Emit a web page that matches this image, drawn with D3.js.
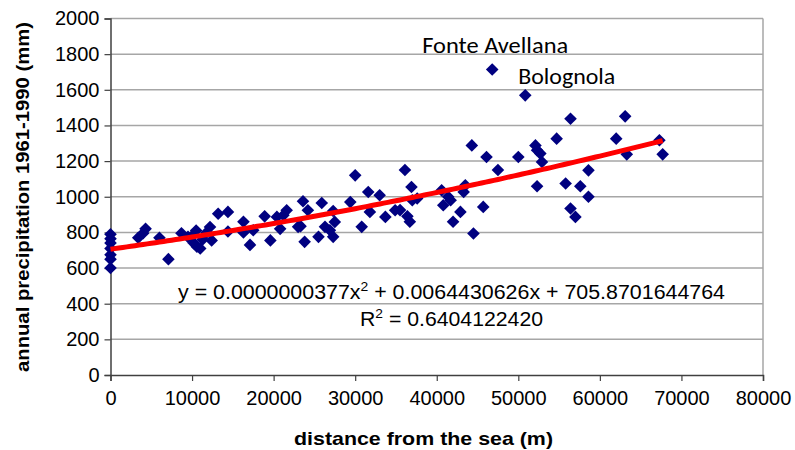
<!DOCTYPE html>
<html><head><meta charset="utf-8">
<script src="https://cdn.jsdelivr.net/npm/d3@7"></script>
<style>body{margin:0;background:#fff}svg{display:block}</style>
</head><body>
<svg id="c" width="795" height="450"></svg>
<script>
const distance = [0,0,0,0,0,0,0,3400,4000,4300,6000,7100,8700,9500,10000,10200,10500,10600,11000,11300,11800,12200,12400,13200,14400,14400,16300,16300,17100,17500,18900,19600,20400,20800,21200,21600,23000,23300,23600,23800,24200,25500,25900,26300,26900,27300,27500,27300,29400,30000,30800,31600,31800,33000,33700,34900,35500,36100,36400,36700,36900,37000,37600,40600,40800,41400,41700,42000,42900,43300,43500,44300,44500,45700,46100,46800,47500,50000,50850,52100,52300,52700,52900,52300,54700,55800,56400,56400,57000,57600,58600,58600,62000,63100,63300,67300,67700];
const precip = [790,765,740,710,675,650,600,770,795,820,770,650,795,775,780,740,810,720,710,760,800,830,755,905,915,805,860,800,730,812,890,755,887,820,896,924,831,835,975,747,924,775,965,831,812,775,859,920,970,1120,831,1027,915,1008,887,924,925,1150,890,860,1055,980,990,1036,952,1000,980,860,915,1027,1064,1288,794,943,1223,1714,1150,1223,1569,1288,1261,1242,1195,1059,1326,1074,1438,934,887,1059,1148,1000,1326,1451,1238,1317,1238];
const xTicks = [0,10000,20000,30000,40000,50000,60000,70000,80000];
const yTicks = [0,200,400,600,800,1000,1200,1400,1600,1800,2000];
const coef = [705.8701644764, 0.0064430626, 0.0000000377];
const fitRange = [0, 67700];
const labels = [{text:"Fonte Avellana", x:46800, y:1714}, {text:"Bolognola", x:50850, y:1569}];

const svg = d3.select("#c");
const L=110.5, R=763, T=18.5, B=375;
const x = d3.scaleLinear().domain([0,80000]).range([L,R]);
const y = d3.scaleLinear().domain([0,2000]).range([B,T]);
const font = "Liberation Sans, Arial, sans-serif";

// gridlines
svg.append("g").selectAll("line").data(yTicks.filter(d=>d>0)).join("line")
  .attr("x1",L).attr("x2",R).attr("y1",d=>y(d)).attr("y2",d=>y(d))
  .attr("stroke","#a6a6a6").attr("stroke-width",1.5);
svg.append("line").attr("x1",R).attr("x2",R).attr("y1",T).attr("y2",B)
  .attr("stroke","#a6a6a6").attr("stroke-width",1.5);

// axes
const ya = svg.append("g").attr("transform",`translate(${L},0)`)
  .call(d3.axisLeft(y).tickValues(yTicks).tickSize(6).tickPadding(5).tickFormat(d3.format("d")));
const xa = svg.append("g").attr("transform",`translate(0,${B})`)
  .call(d3.axisBottom(x).tickValues(xTicks).tickSize(6).tickPadding(10).tickFormat(d3.format("d")));
[ya,xa].forEach(g=>{
  g.select(".domain").attr("stroke","#404040").attr("stroke-width",1.5);
  g.selectAll(".tick line").attr("stroke","#404040").attr("stroke-width",1.2);
  g.selectAll("text").attr("font-family",font).attr("font-size",20).attr("fill","#000");
});

// points
const s = 6.3;
svg.append("g").selectAll("path").data(distance.map((d,i)=>[d,precip[i]])).join("path")
  .attr("d",d=>{const cx=x(d[0]),cy=y(d[1]);return `M${cx},${cy-s}L${cx+s},${cy}L${cx},${cy+s}L${cx-s},${cy}Z`;})
  .attr("fill","#000080");

// fit curve
const xs = d3.range(fitRange[0], fitRange[1]+1, 500);
if (xs[xs.length-1]!==fitRange[1]) xs.push(fitRange[1]);
svg.append("path").datum(xs)
  .attr("d", d3.line().x(d=>x(d)).y(d=>y(coef[0]+coef[1]*d+coef[2]*d*d)))
  .attr("fill","none").attr("stroke","#ff0000").attr("stroke-width",5);

// point labels
svg.append("text").attr("x",x(labels[0].x)-70).attr("y",53).text(labels[0].text)
  .attr("font-family","Carlito, Lato, sans-serif").attr("font-size",23)
  .attr("textLength",146).attr("lengthAdjust","spacingAndGlyphs");
svg.append("text").attr("x",x(labels[1].x)-7).attr("y",84).text(labels[1].text)
  .attr("font-family","Carlito, Lato, sans-serif").attr("font-size",23)
  .attr("textLength",97).attr("lengthAdjust","spacingAndGlyphs");

// equation
svg.append("text").attr("x",178).attr("y",299)
  .attr("font-family",font).attr("font-size",20)
  .attr("textLength",547).attr("lengthAdjust","spacingAndGlyphs")
  .html('y = 0.0000000377x<tspan font-size="13" dy="-8">2</tspan><tspan dy="8"> + 0.0064430626x + 705.8701644764</tspan>');
svg.append("text").attr("x",360).attr("y",326)
  .attr("font-family",font).attr("font-size",20)
  .attr("textLength",183).attr("lengthAdjust","spacingAndGlyphs")
  .html('R<tspan font-size="13" dy="-8">2</tspan><tspan dy="8"> = 0.6404122420</tspan>');

// axis titles
svg.append("text").attr("x",294).attr("y",445)
  .attr("font-family",font).attr("font-size",19).attr("font-weight","bold")
  .attr("textLength",259).attr("lengthAdjust","spacingAndGlyphs")
  .text("distance from the sea (m)");
svg.append("text").attr("transform","translate(29,372) rotate(-90)")
  .attr("font-family",font).attr("font-size",19).attr("font-weight","bold")
  .attr("textLength",350).attr("lengthAdjust","spacingAndGlyphs")
  .text("annual precipitation 1961-1990 (mm)");
</script>
</body></html>
